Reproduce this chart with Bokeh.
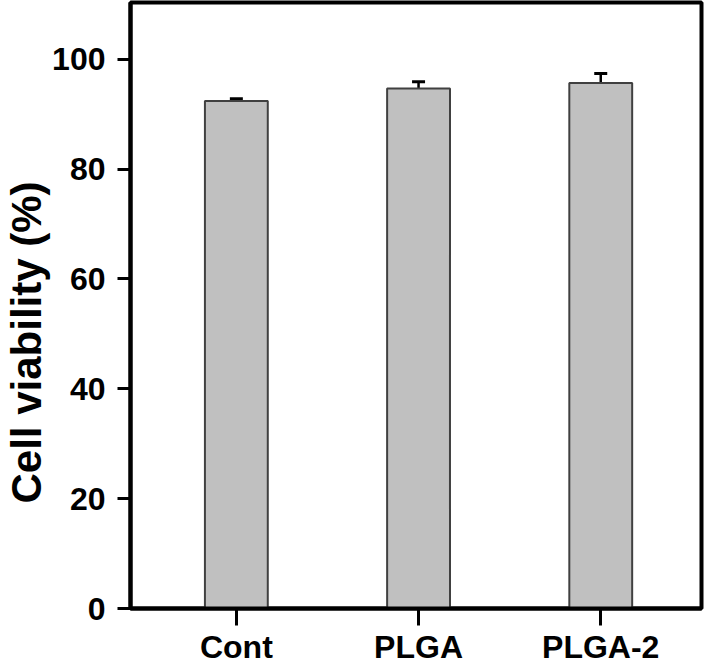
from bokeh.plotting import figure
from bokeh.models import Range1d, FixedTicker, ColumnDataSource, Whisker, TeeHead, Title
from bokeh.embed import file_html
from bokeh.resources import INLINE

categories = ["Cont", "PLGA", "PLGA-2"]
viability = [92.4, 94.7, 95.7]
errors = [0.4, 1.2, 1.7]
y_ticks = [0, 20, 40, 60, 80, 100]
y_title = "Cell viability (%)"

xpos = list(range(len(categories)))
src = ColumnDataSource(dict(
    x=xpos,
    top=viability,
    upper=[v + e for v, e in zip(viability, errors)],
))

FONT = "Liberation Sans"

p = figure(width=704, height=667, output_backend="svg", toolbar_location=None,
           x_range=Range1d(-0.581, 2.553), y_range=Range1d(0, 110.34),
           min_border_left=129, min_border_right=3, min_border_top=2,
           min_border_bottom=57)

p.vbar(x="x", top="top", width=0.345, source=src, fill_color="#c0c0c0",
       line_color="#404040", line_width=2)

w = Whisker(base="x", lower="top", upper="upper", source=src, dimension="height",
            line_color="black", line_width=2.5,
            upper_head=TeeHead(size=13, line_width=3, line_color="black"),
            lower_head=None)
p.add_layout(w)

p.grid.visible = False
p.outline_line_color = "black"
p.outline_line_width = 4
p.background_fill_color = "white"
p.border_fill_color = "white"

for ax in (p.xaxis[0], p.yaxis[0]):
    ax.axis_line_width = 4
    ax.axis_line_color = "black"
    ax.major_tick_line_width = 3
    ax.major_tick_line_color = "black"
    ax.major_tick_in = 0
    ax.minor_tick_line_color = None
    ax.major_label_text_font = FONT
    ax.major_label_text_font_style = "bold"
    ax.major_label_text_color = "black"
    ax.major_label_text_font_size = "32px"

p.yaxis.ticker = FixedTicker(ticks=y_ticks)
p.yaxis.major_tick_out = 13
p.yaxis.major_label_standoff = 12

p.add_layout(Title(text=y_title, align="left", offset=105, standoff=0,
                   text_font=FONT, text_font_style="bold",
                   text_font_size="42px", text_color="black"), "left")

p.xaxis.ticker = FixedTicker(ticks=xpos)
p.xaxis.major_label_overrides = {i: c for i, c in zip(xpos, categories)}
p.xaxis.major_tick_out = 17
p.xaxis.major_label_standoff = 3

open("out.html", "w").write(file_html(p, INLINE))
